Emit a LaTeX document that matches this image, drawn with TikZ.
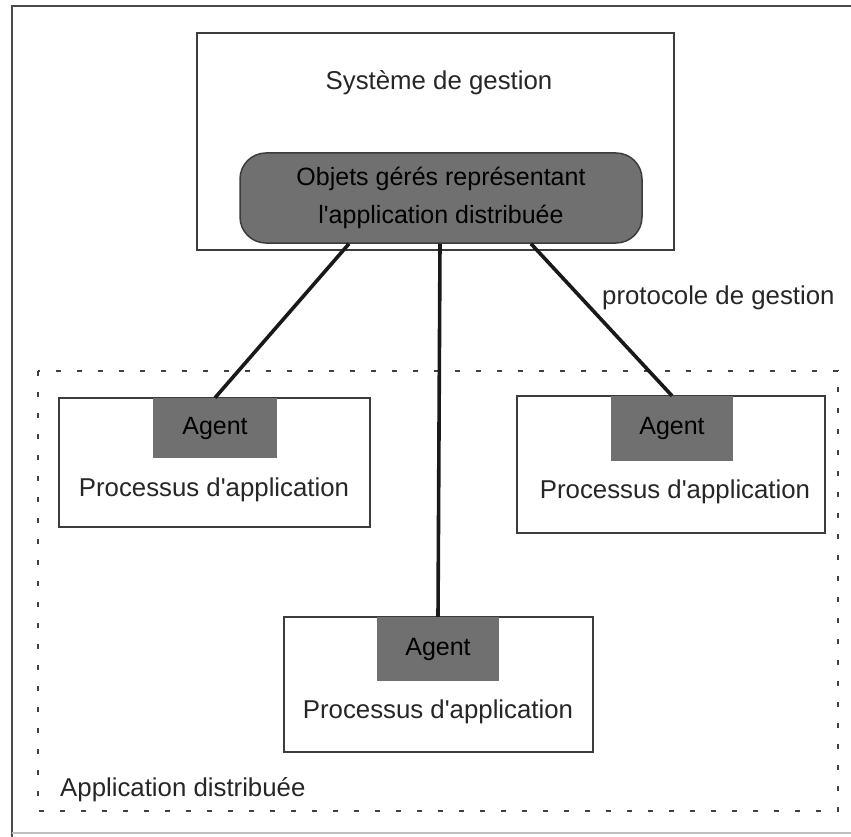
\documentclass[tikz,border=0pt]{standalone}
\usepackage{fontspec}
\setmainfont{Liberation Sans}[Ligatures=TeXOff]
\begin{document}
\definecolor{ink}{HTML}{262626}
\definecolor{edge}{HTML}{3C3C3C}
\definecolor{shade}{HTML}{707070}
\begin{tikzpicture}[x=1pt,y=-1pt,
  font=\fontsize{25.8}{31}\selectfont,
  box/.style={draw=edge,line width=1.8pt,fill=white,rectangle,inner sep=0pt},
  agentbox/.style={draw=none,fill=shade,rectangle,inner sep=0pt,
    minimum width=122pt,minimum height=62pt,text=black,
    font=\fontsize{25}{30}\selectfont},
  label/.style={text=ink,inner sep=0pt},
  link/.style={draw=black!90,line width=3.6pt}]
\useasboundingbox (0,0) rectangle (851,837);

% outer frame
\draw[draw=black!70,line width=1.8pt] (851,6) -- (12,6) -- (12,837);
\draw[draw=black!25,line width=1.2pt] (12,833) -- (851,833);

% distributed application area
\draw[draw=black!75,line width=1.6pt,dash pattern=on 5pt off 16pt]
  (38,371) rectangle (838,811);
\node[label,anchor=west] (appdist) at (60,790) {Application distribuée};

% management system
\node[box,minimum width=477pt,minimum height=217pt] (sys) at (435.5,141.5) {};
\node[label] (systxt) at (439,83) {Système de gestion};
\node[draw=edge,line width=1.5pt,fill=shade,rounded corners=26pt,
  minimum width=402pt,minimum height=90pt,inner sep=0pt,align=center,
  text=black,font=\fontsize{25}{38}\selectfont] (obj) at (441,198)
  {Objets gérés représentant\\l'application distribuée};

% application processes
\node[box,minimum width=311pt,minimum height=129pt] (procL) at (214.5,462.5) {};
\node[agentbox,minimum width=124pt,minimum height=60pt] (agL) at (215,428) {Agent};
\node[label] (txtL) at (214,490) {Processus d'application};

\node[box,minimum width=308pt,minimum height=137pt] (procR) at (671,464.5) {};
\node[agentbox,minimum height=65pt] (agR) at (672,428.5) {Agent};
\node[label] (txtR) at (675,492) {Processus d'application};

\node[box,minimum width=309pt,minimum height=135pt] (procB) at (438.5,684.5) {};
\node[agentbox,minimum height=64pt] (agB) at (438,649) {Agent};
\node[label] (txtB) at (438,712) {Processus d'application};

% management protocol links
\draw[link] ([xshift=-92pt]obj.south) -- (agL.north);
\draw[link] ([xshift=-1pt]obj.south) -- (agB.north);
\draw[link] ([xshift=90pt]obj.south) -- (agR.north);
\node[label,anchor=west] (proto) at (602,298) {protocole de gestion};
\end{tikzpicture}
\end{document}
